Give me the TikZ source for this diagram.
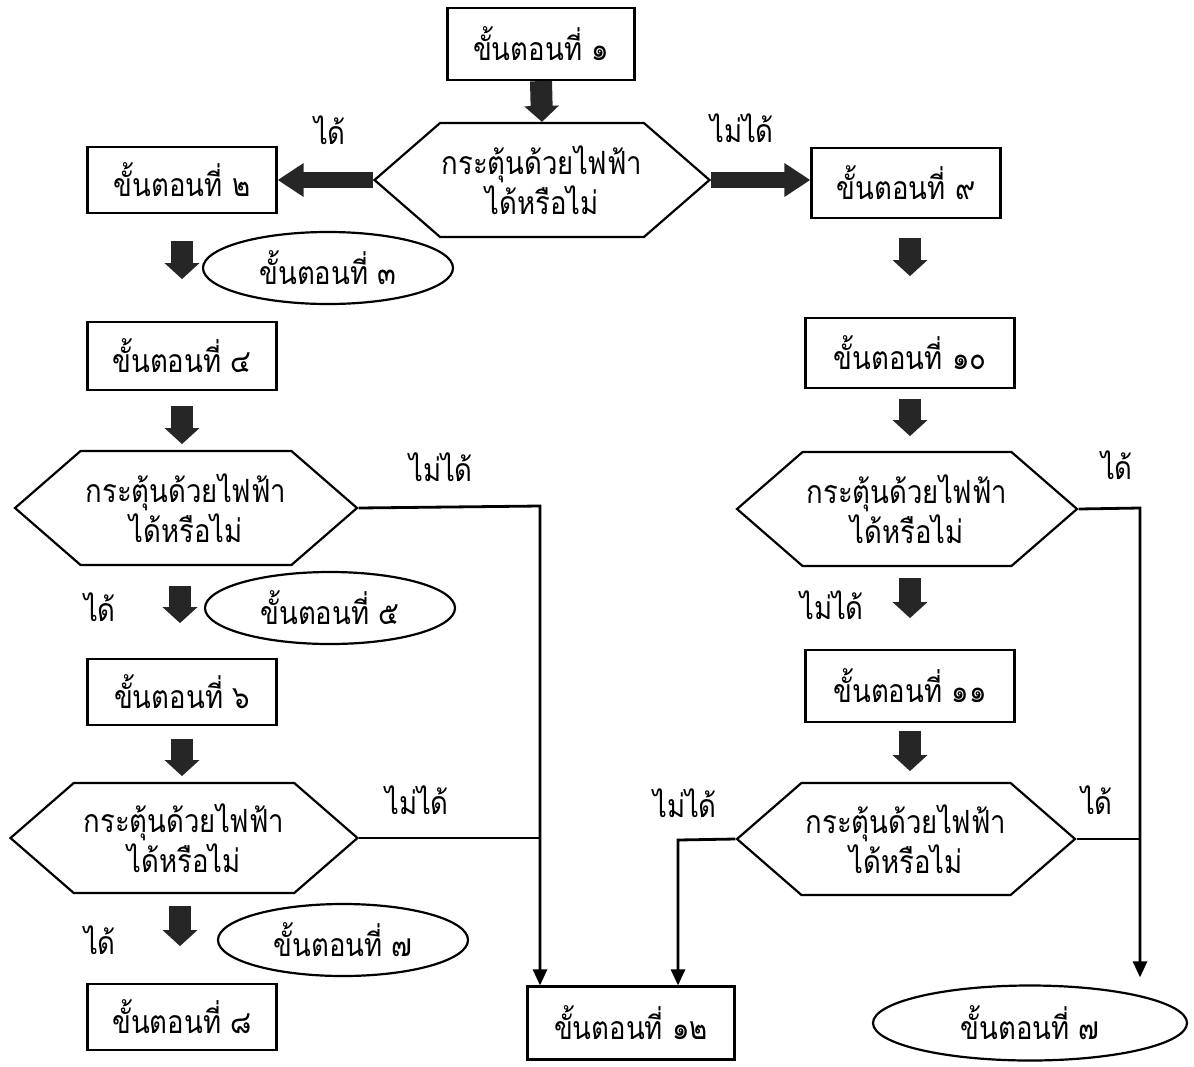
\documentclass[tikz,border=0pt]{standalone}
\usepackage{fontspec}
\setmainfont{Loma}[Script=Thai,FakeStretch=0.86]
\usetikzlibrary{arrows.meta,calc,shapes.geometric,shapes.symbols}

\begin{document}
\begin{tikzpicture}[x=0.5pt,y=-0.5pt,
	every node/.style={font=\fontsize{16}{20}\selectfont},
	stepbox/.style={draw,line width=1.1pt,minimum width=94.5pt,minimum height=33pt,inner sep=0pt},
	stepoval/.style={draw,ellipse,line width=1.1pt,minimum width=125pt,minimum height=36pt,inner sep=0pt},
	askbox/.style={draw,signal,signal to=east and west,signal pointer angle=82,line width=1.1pt,
		minimum width=171pt,minimum height=57pt,inner sep=0pt,align=center},
	bigarrow/.style={line width=11pt,black!85,-{Triangle[length=8pt,width=17pt]}},
	sidearrow/.style={line width=8pt,black!85,-{Triangle[length=13pt,width=16pt]}},
	thinline/.style={line width=1.4pt},
	thinarrow/.style={thinline,-{Triangle[length=8pt,width=7pt]}}]
		%%%%% START %%%%%
		\useasboundingbox (0,0) rectangle (1194,1066);
		
		\node[stepbox,minimum width=93.5pt,minimum height=36pt] (s1) at (541,44) {ขั้นตอนที่ ๑};
		\node[askbox,minimum width=167.5pt] (d1) at (542,180) {กระตุ้นด้วยไฟฟ้า\\ได้หรือไม่};
		\node[stepbox] (s2) at (182,180) {ขั้นตอนที่ ๒};
		\node[stepbox,minimum height=35pt] (s9) at (906,183) {ขั้นตอนที่ ๙};
		
		\node (yes1) at (330,130) {ได้};
		\node (no1) at (742,128) {ไม่ได้};
		
		\draw[bigarrow] (s1.south) -- (d1.north);
		\draw[sidearrow] (d1.west) -- (s2.east);
		\draw[sidearrow] (d1.east) -- (d1.east -| s9.west);
		
		% left column
		\node[stepoval] (s3) at (328,268) {ขั้นตอนที่ ๓};
		\node[stepbox,minimum height=34pt] (s4) at (182,356) {ขั้นตอนที่ ๔};
		\node[askbox] (d2) at (186,508) {กระตุ้นด้วยไฟฟ้า\\ได้หรือไม่};
		\node[stepoval] (s5) at (330,608) {ขั้นตอนที่ ๕};
		\node[stepbox] (s6) at (182,692) {ขั้นตอนที่ ๖};
		\node[askbox,minimum width=173.5pt,minimum height=55pt] (d3) at (184,838) {กระตุ้นด้วยไฟฟ้า\\ได้หรือไม่};
		\node[stepoval] (s7) at (343,940) {ขั้นตอนที่ ๗};
		\node[stepbox] (s8) at (182,1017) {ขั้นตอนที่ ๘};
		
		\node (no2) at (441,467) {ไม่ได้};
		\node (yes2) at (100,607) {ได้};
		\node (no3) at (417,800) {ไม่ได้};
		\node (yes3) at (100,940) {ได้};
		
		\draw[bigarrow] ($(s2.south)+(0,27)$) -- ++(0,38);
		\draw[bigarrow] ($(s4.south)+(0,15)$) -- ++(0,38);
		\draw[bigarrow] ($(d2.south)+(-6,20)$) -- ++(0,37);
		\draw[bigarrow] ($(s6.south)+(0,13)$) -- ++(0,37);
		\draw[bigarrow] ($(d3.south)+(-4,12)$) -- ++(0,40);
		
		% middle
		\node[stepbox,minimum width=103.5pt,minimum height=36.5pt] (s12) at (631,1023) {ขั้นตอนที่ ๑๒};
		\coordinate (c1) at (540,506);
		\coordinate (c2) at (678,840);
		
		\draw[thinarrow] (d2.east) -- (c1) -- (c1 |- s12.north);
		\draw[thinline] (d3.east) -- (c1 |- d3.east);
		
		% right column
		\node[stepbox,minimum width=104.5pt,minimum height=35pt] (s10) at (910,353) {ขั้นตอนที่ ๑๐};
		\node[askbox,minimum width=170pt] (d4) at (907,509) {กระตุ้นด้วยไฟฟ้า\\ได้หรือไม่};
		\node[stepbox,minimum width=104.5pt,minimum height=36pt] (s11) at (910,686) {ขั้นตอนที่ ๑๑};
		\node[askbox,minimum width=169pt,minimum height=56pt] (d5) at (906,839) {กระตุ้นด้วยไฟฟ้า\\ได้หรือไม่};
		\node[stepoval,minimum width=157pt,minimum height=37.5pt] (s7b) at (1030,1023) {ขั้นตอนที่ ๗};
		\coordinate (c3) at (1140,508);
		
		\node (yes4) at (1117,465) {ได้};
		\node (no4) at (832,605) {ไม่ได้};
		\node (no5) at (685,803) {ไม่ได้};
		\node (yes5) at (1097,800) {ได้};
		
		\draw[bigarrow] ($(s9.south)+(4,19)$) -- ++(0,38);
		\draw[bigarrow] ($(s10.south)+(0,10)$) -- ++(0,37);
		\draw[bigarrow] ($(d4.south)+(3,11)$) -- ++(0,40);
		\draw[bigarrow] ($(s11.south)+(0,8)$) -- ++(0,40);
		
		\draw[thinarrow] (d4.east) -- (c3) -- ($(c3 |- s7b.north)+(0,-7)$);
		\draw[thinline] (d5.east) -- (c3 |- d5.east);
		\draw[thinarrow] (d5.west) -- (c2) -- (c2 |- s12.north);
		%%%%% END %%%%%
\end{tikzpicture}
\end{document}
